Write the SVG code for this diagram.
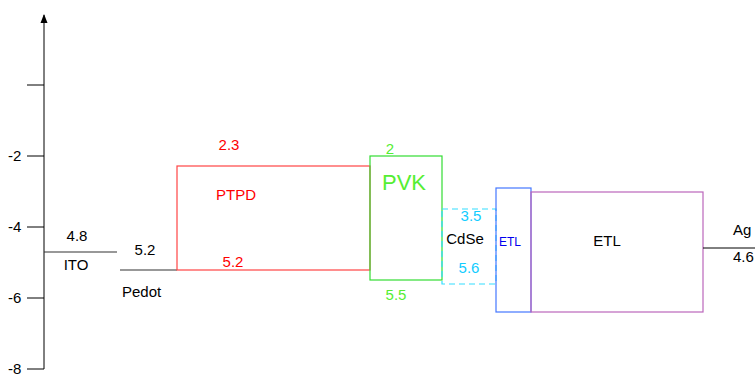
<svg xmlns="http://www.w3.org/2000/svg" width="755" height="374" viewBox="0 0 755 374">
<style>
text{font-family:"Liberation Sans",Arial,sans-serif;font-size:15px}
.ax{stroke:#000;stroke-width:1;fill:none}
.lv{stroke:#333;stroke-width:1.2;fill:none}
</style>
<rect width="755" height="374" fill="#fff"/>
<g id="axis">
<path class="ax" d="M44,369 V15"/>
<path d="M40.5,23 L44,14 L47.5,23 Z" fill="#000"/>
<path class="ax" d="M27,85 H44 M27,156 H44 M27,227 H44 M27,298 H44 M27,369 H44"/>
<text x="8" y="161">-2</text>
<text x="8" y="232">-4</text>
<text x="8" y="303">-6</text>
<text x="8" y="374">-8</text>
</g>
<g id="ITO">
<path class="lv" d="M44,252 H117"/>
<text x="77" y="241" text-anchor="middle">4.8</text>
<text x="76" y="270" text-anchor="middle">ITO</text>
</g>
<g id="Pedot">
<path class="lv" d="M120,270 H177"/>
<text x="145" y="255" text-anchor="middle">5.2</text>
<text x="122" y="297">Pedot</text>
</g>
<g id="PTPD">
<rect x="177" y="166" width="193" height="104" fill="none" stroke="#f44" stroke-width="1.2"/>
<text x="229" y="150" text-anchor="middle" fill="#f00">2.3</text>
<text x="236" y="200" text-anchor="middle" fill="#f00">PTPD</text>
<text x="233" y="267" text-anchor="middle" fill="#f00">5.2</text>
</g>
<g id="PVK">
<rect x="370" y="156" width="72" height="124" fill="none" stroke="#3d3" stroke-width="1.2"/>
<text x="390" y="154" text-anchor="middle" fill="#5e3">2</text>
<text x="404" y="190" text-anchor="middle" fill="#5e3" style="font-size:22px">PVK</text>
<text x="396" y="300" text-anchor="middle" fill="#5e3">5.5</text>
</g>
<g id="CdSe">
<rect x="442" y="209" width="54" height="75" fill="none" stroke="#3df" stroke-width="1.2" stroke-dasharray="6,4"/>
<text x="471" y="221" text-anchor="middle" fill="#1cf">3.5</text>
<text x="465" y="244" text-anchor="middle" fill="#000">CdSe</text>
<text x="469" y="273" text-anchor="middle" fill="#1cf">5.6</text>
</g>
<g id="ETL1">
<rect x="496" y="188" width="35" height="124" fill="none" stroke="#47f" stroke-width="1.2"/>
<text x="510" y="246" text-anchor="middle" fill="#00e" style="font-size:12px">ETL</text>
</g>
<g id="ETL2">
<rect x="531" y="192" width="172" height="120" fill="none" stroke="#b6b" stroke-width="1.2"/>
<text x="607" y="246" text-anchor="middle" fill="#000">ETL</text>
</g>
<g id="Ag">
<path class="ax" d="M703,248 H755"/>
<text x="733" y="235">Ag</text>
<text x="733" y="262">4.6</text>
</g>
</svg>
